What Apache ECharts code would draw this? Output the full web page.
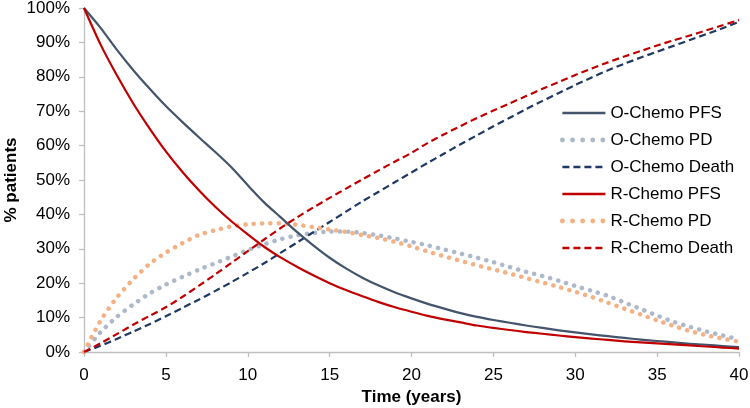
<!DOCTYPE html>
<html>
<head>
<meta charset="utf-8">
<script src="https://cdn.jsdelivr.net/npm/echarts@6/dist/echarts.min.js"></script>
<style>
html,body{margin:0;padding:0;background:#fff;}
#chart{width:750px;height:408px;}
</style>
</head>
<body>
<div id="chart"></div>
<script>
const years = [0,1,2,3,4,5,6,7,8,9,10,11,12,13,14,15,16,17,18,19,20,21,22,23,24,25,26,27,28,29,30,31,32,33,34,35,36,37,38,39,40];
const xTicks = [0,5,10,15,20,25,30,35,40];
const yTicks = [0,10,20,30,40,50,60,70,80,90,100];
const seriesNames = ['O-Chemo PFS','O-Chemo PD','O-Chemo Death','R-Chemo PFS','R-Chemo PD','R-Chemo Death'];

const oChemoPFS = [100,94.3,87.9,82.0,76.6,71.5,66.9,62.5,58.2,53.7,48.5,43.5,39.2,34.9,31.0,27.4,24.3,21.6,19.3,17.3,15.6,14.0,12.6,11.3,10.2,9.3,8.5,7.7,7.0,6.3,5.7,5.1,4.6,4.1,3.6,3.2,2.8,2.4,2.1,1.7,1.4];
const oChemoPD = [0,5.7,10.2,13.8,17.0,19.6,21.8,23.9,25.8,27.7,29.6,31.3,32.8,33.9,34.6,35.0,35.0,34.6,33.9,33.0,32.0,31.0,29.8,28.6,27.4,26.1,24.7,23.3,22.1,20.7,19.2,17.8,16.3,14.4,12.5,10.6,8.8,7.3,6.0,4.8,3.7];
const oChemoDeath = [0,1.8,3.8,5.9,8.1,10.4,12.8,15.2,17.7,20.3,23.0,25.8,28.8,31.8,34.8,37.8,40.8,43.8,46.6,49.4,52.2,55.0,57.7,60.4,63.0,65.6,68.1,70.6,73.0,75.3,77.6,79.8,81.9,83.8,85.6,87.3,89.0,90.7,92.4,94.1,96.0];
const rChemoPFS = [100,89.5,80.5,72.3,65.0,58.3,52.4,47.1,42.3,38.0,34.2,30.6,27.5,24.8,22.3,20.0,18.0,16.2,14.5,13.0,11.7,10.5,9.5,8.6,7.7,7.0,6.4,5.8,5.3,4.8,4.3,3.9,3.5,3.1,2.8,2.5,2.2,1.9,1.6,1.3,1.0];
const rChemoPD = [0,9.0,15.8,21.1,25.6,28.9,31.6,34.0,35.4,36.5,37.1,37.4,37.4,37.0,36.3,35.6,34.9,34.0,33.1,32.0,30.7,29.2,27.8,26.5,25.2,24.0,22.8,21.5,20.2,18.9,17.5,16.0,14.3,12.6,10.9,9.2,7.6,6.1,4.9,3.9,3.0];
const rChemoDeath = [0,2.5,5.2,7.9,10.5,13.0,16.0,19.2,22.5,25.9,29.3,32.7,36.0,39.1,42.0,44.8,47.5,50.2,52.8,55.4,57.9,60.8,63.3,65.7,68.0,70.2,72.3,74.4,76.5,78.5,80.5,82.4,84.2,85.9,87.5,89.1,90.6,92.0,93.5,95.0,96.5];

const seriesValues = [oChemoPFS,oChemoPD,oChemoDeath,rChemoPFS,rChemoPD,rChemoDeath];
const styles = [
  {color:'#44546A', width:2.2, type:'solid', cap:'butt'},
  {color:'#ADB9CA', width:4.5, type:[0.1,8.2], cap:'round'},
  {color:'#1F3864', width:2.2, type:[7,4], cap:'butt'},
  {color:'#C00000', width:2.2, type:'solid', cap:'butt'},
  {color:'#F4B183', width:4.5, type:[0.1,8.2], cap:'round'},
  {color:'#C00000', width:2.2, type:[7,4], cap:'butt'}
];
const FONT = "'Liberation Sans', Arial, sans-serif";

const chart = echarts.init(document.getElementById('chart'), null, {renderer:'canvas'});
chart.setOption({
  animation:false,
  backgroundColor:'#fff',
  textStyle:{fontFamily:FONT},
  grid:{left:84, right:11, top:8, bottom:56, containLabel:false, outerBoundsMode:'none'},
  legend:{
    orient:'vertical', left:560, top:104.5, padding:0,
    itemWidth:43, itemHeight:14, itemGap:10,
    textStyle:{fontFamily:FONT, fontSize:17, color:'#000'},
    data:seriesNames.map(function(n,i){
      return {
        name:n,
        itemStyle:{color:'rgba(0,0,0,0)', borderColor:'rgba(0,0,0,0)', borderWidth:0, opacity:0},
        lineStyle:{color:styles[i].color, width:Math.min(styles[i].width+0.3,5), type:(i===1||i===4)?[0.1,10]:styles[i].type, cap:styles[i].cap}
      };
    })
  },
  xAxis:{
    type:'value', min:0, max:40, interval:5,
    name:'Time (years)', nameLocation:'middle', nameGap:37, nameMoveOverlap:false,
    nameTextStyle:{fontFamily:FONT, fontSize:17, fontWeight:'bold', color:'#000'},
    axisLine:{show:true, lineStyle:{color:'#BFBFBF', width:1.3}},
    axisTick:{show:true, length:5, inside:false, lineStyle:{color:'#BFBFBF', width:1.3}},
    axisLabel:{fontFamily:FONT, fontSize:17, color:'#000', margin:15,
      formatter:function(v){return xTicks.indexOf(v)>=0?String(v):'';}},
    splitLine:{show:false}
  },
  yAxis:{
    type:'value', min:0, max:100, interval:10,
    name:'% patients', nameLocation:'middle', nameGap:64, nameMoveOverlap:false,
    nameTextStyle:{fontFamily:FONT, fontSize:17, fontWeight:'bold', color:'#000'},
    axisLine:{show:true, lineStyle:{color:'#BFBFBF', width:1.3}},
    axisTick:{show:true, length:5, inside:false, lineStyle:{color:'#BFBFBF', width:1.3}},
    axisLabel:{fontFamily:FONT, fontSize:17, color:'#000', margin:14,
      formatter:function(v){return yTicks.indexOf(v)>=0?v+'%':'';}},
    splitLine:{show:false}
  },
  series:seriesNames.map(function(name,i){
    return {
      name:name, type:'line', symbol:'none', showSymbol:false,
      smooth:0.25,
      data:years.map(function(y,j){return [y, seriesValues[i][j]];}),
      z: (i===3||i===0)?3:2,
      itemStyle:{color:styles[i].color},
      lineStyle:{color:styles[i].color, width:styles[i].width, type:styles[i].type, cap:styles[i].cap, join:'round'}
    };
  })
});
</script>
</body>
</html>
